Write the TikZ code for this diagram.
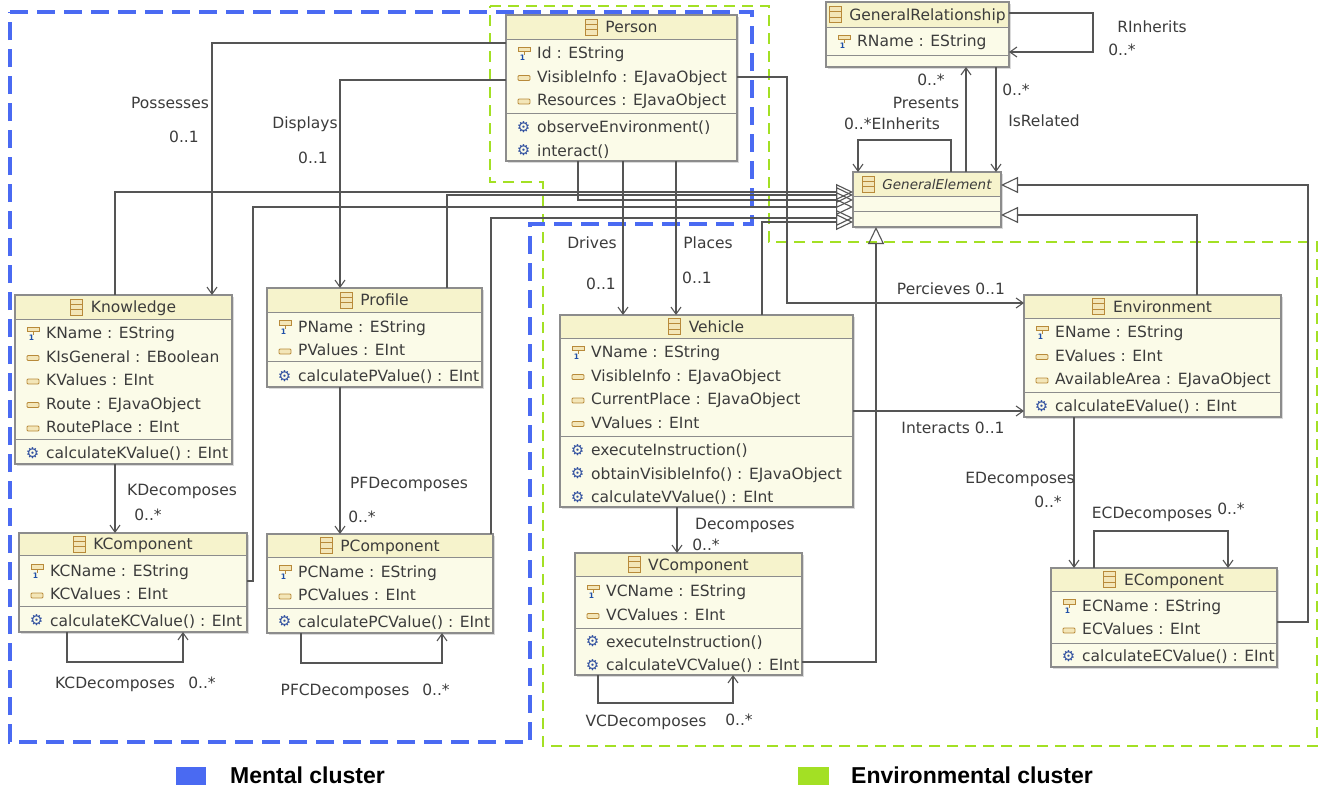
\documentclass[tikz,border=0pt]{standalone}
\usepackage{fontspec}
\setmainfont{DejaVu Sans}
\newfontfamily\legfont{Liberation Sans}
\usetikzlibrary{arrows.meta,calc}
\definecolor{bodyfill}{HTML}{FBFBE8}
\definecolor{headfill}{HTML}{F6F3CC}
\definecolor{boxline}{HTML}{8C8C8C}
\definecolor{txtcol}{HTML}{3C3C3C}
\definecolor{linecol}{HTML}{555555}
\definecolor{iconcol}{HTML}{B88A3A}
\definecolor{iconfill}{HTML}{F3E6B8}
\definecolor{gearblue}{HTML}{2F4F9F}
\definecolor{idblue}{HTML}{1F4FA8}
\definecolor{bluec}{HTML}{4A6AF2}
\definecolor{greenc}{HTML}{A3E024}
\definecolor{shadowc}{HTML}{DADADA}
\newcommand\umlfs{\fontsize{15.5}{18}\selectfont}
\newcount\rowno
\newcommand\nextrow{\global\advance\rowno by 1\relax}
\tikzset{
 classbox/.style={draw=boxline, line width=1.2pt, fill=bodyfill, inner sep=0pt, outer sep=0pt, rectangle},
 sepline/.style={draw=boxline, line width=1pt},
 lbl/.style={font=\umlfs, text=txtcol, inner sep=0pt, anchor=base},
 rowtxt/.style={font=\umlfs, text=txtcol, inner sep=0pt, anchor=base west},
 assoc/.style={draw=linecol, line width=1.1pt, -{Straight Barb[length=7pt,width=10pt]}},
 gen/.style={draw=linecol, line width=1.1pt, -{Triangle[open,length=17pt,width=16pt]}},
 plainline/.style={draw=linecol, line width=1.1pt},
}
% name, left, top, right, bottom, header sep, attr sep, title
\newcommand\umlbox[8]{%
  \fill[shadowc] (#2+2,#3+2) rectangle (#4+2,#5+2);
  \node[classbox, anchor=north west, minimum width={#4-#2}, minimum height={#5-#3}] (#1) at (#2,#3) {};
  \fill[headfill] (#2,#3) rectangle (#4,#6);
  \draw[sepline] (#2,#6) -- (#4,#6);
  \draw[sepline] (#2,#7) -- (#4,#7);
  \draw[draw=boxline, line width=1.2pt] (#1.north west) rectangle (#1.south east);
  \node[lbl] (#1-title) at ({(#2+#4)/2+10},{(#3+#6)/2+5.5}) {#8};
  \draw[iconcol, fill=iconfill, line width=0.9pt] ($(#1-title.base west)+(-20,-13.5)$) rectangle ($(#1-title.base west)+(-8,2.5)$);
  \draw[iconcol, line width=0.9pt] ($(#1-title.base west)+(-20,-8.2)$) -- ++(12,0) ($(#1-title.base west)+(-20,-2.8)$) -- ++(12,0);
}
\newcommand\uattr[3]{\nextrow
  \draw[iconcol, fill=iconfill, line width=0.9pt, rounded corners=1pt] (#1+12,#2-1) rectangle (#1+24,#2+4);
  \node[rowtxt] (r\the\rowno) at (#1+31,#2+5.5) {#3};}
\newcommand\uid[3]{\nextrow
  \draw[iconcol, fill=iconfill, line width=0.9pt] (#1+12,#2-6) rectangle (#1+24,#2-1.5);
  \draw[iconcol, line width=0.9pt] (#1+18,#2-1.5) -- (#1+18,#2+2);
  \node[font=\fontsize{7.5}{7.5}\selectfont\bfseries, text=idblue, inner sep=0pt] (r\the\rowno i) at (#1+16.5,#2+5) {1};
  \node[rowtxt] (r\the\rowno) at (#1+31,#2+5.5) {#3};}
\newcommand\uop[3]{\nextrow
  \node[text=gearblue, font=\fontsize{15}{15}\selectfont, inner sep=0pt] (r\the\rowno g) at (#1+17.5,#2) {⚙};
  \node[rowtxt] (r\the\rowno) at (#1+31,#2+5.5) {#3};}
\newcommand\lab[4]{\node[lbl] (#1) at (#2,#3+5.5) {#4};}
\begin{document}
\begin{tikzpicture}[x=1pt,y=-1pt]
\useasboundingbox (0,0) rectangle (1326,787);
\fill[white] (0,0) rectangle (1326,787);
% clusters
\draw[greenc, line width=2.6pt, dash pattern=on 11pt off 7pt] (490,6) -- (769,6) -- (769,242) -- (1317,242) -- (1317,746) -- (543,746) -- (543,182) -- (490,182) -- cycle;
\draw[bluec, line width=4pt, dash pattern=on 18pt off 9pt] (10,12) -- (752,12) -- (752,224) -- (530,224) -- (530,742) -- (10,742) -- cycle;
% boxes
\umlbox{person}{506}{15}{737}{161}{39}{113}{Person}
\uid{506}{53}{Id : EString}
\uattr{506}{76.5}{VisibleInfo : EJavaObject}
\uattr{506}{100}{Resources : EJavaObject}
\uop{506}{127}{observeEnvironment()}
\uop{506}{150.5}{interact()}

\umlbox{genrel}{826}{2}{1009}{67}{27}{55}{GeneralRelationship}
\uid{826}{41}{RName : EString}

\umlbox{genelem}{853}{172}{1001}{227}{196}{211}{\fontsize{13.5}{16}\selectfont\itshape GeneralElement}

\umlbox{knowledge}{15}{295}{232}{464}{319}{439}{Knowledge}
\uid{15}{333}{KName : EString}
\uattr{15}{356.5}{KIsGeneral : EBoolean}
\uattr{15}{380}{KValues : EInt}
\uattr{15}{403.5}{Route : EJavaObject}
\uattr{15}{427}{RoutePlace : EInt}
\uop{15}{453}{calculateKValue() : EInt}

\umlbox{profile}{267}{288}{482}{387}{312}{361}{Profile}
\uid{267}{326.5}{PName : EString}
\uattr{267}{350}{PValues : EInt}
\uop{267}{376}{calculatePValue() : EInt}

\umlbox{vehicle}{560}{315}{853}{507}{338}{436}{Vehicle}
\uid{560}{352}{VName : EString}
\uattr{560}{375.5}{VisibleInfo : EJavaObject}
\uattr{560}{399}{CurrentPlace : EJavaObject}
\uattr{560}{422.5}{VValues : EInt}
\uop{560}{450}{executeInstruction()}
\uop{560}{473.5}{obtainVisibleInfo() : EJavaObject}
\uop{560}{497}{calculateVValue() : EInt}

\umlbox{environment}{1024}{295}{1281}{417}{318}{392}{Environment}
\uid{1024}{332}{EName : EString}
\uattr{1024}{355.5}{EValues : EInt}
\uattr{1024}{379}{AvailableArea : EJavaObject}
\uop{1024}{406}{calculateEValue() : EInt}

\umlbox{kcomp}{19}{533}{247}{632}{555}{606}{KComponent}
\uid{19}{570.5}{KCName : EString}
\uattr{19}{594}{KCValues : EInt}
\uop{19}{620.5}{calculateKCValue() : EInt}

\umlbox{pcomp}{267}{534}{493}{633}{557}{608}{PComponent}
\uid{267}{571.5}{PCName : EString}
\uattr{267}{595}{PCValues : EInt}
\uop{267}{621.5}{calculatePCValue() : EInt}

\umlbox{vcomp}{575}{553}{802}{675}{576}{628}{VComponent}
\uid{575}{591}{VCName : EString}
\uattr{575}{614.5}{VCValues : EInt}
\uop{575}{641.5}{executeInstruction()}
\uop{575}{665}{calculateVCValue() : EInt}

\umlbox{ecomp}{1051}{568}{1277}{667}{591}{643}{EComponent}
\uid{1051}{605.5}{ECName : EString}
\uattr{1051}{629}{ECValues : EInt}
\uop{1051}{656}{calculateECValue() : EInt}

% associations
\draw[assoc] (person.west |- 0,43) -| (212,0 |- knowledge.north);
\draw[assoc] (person.west |- 0,80) -| (340,0 |- profile.north);
\draw[assoc] (623,0 |- person.south) -- (623,0 |- vehicle.north);
\draw[assoc] (676,0 |- person.south) -- (676,0 |- vehicle.north);
\draw[assoc] (person.east |- 0,77) -| (787,303) -- (environment.west |- 0,303);
\draw[assoc] (vehicle.east |- 0,411) -- (environment.west |- 0,411);
\draw[assoc] (115,0 |- knowledge.south) -- (115,0 |- kcomp.north);
\draw[assoc] (340,0 |- profile.south) -- (340,0 |- pcomp.north);
\draw[assoc] (677,0 |- vehicle.south) -- (677,0 |- vcomp.north);
\draw[assoc] (1074,0 |- environment.south) -- (1074,0 |- ecomp.north);
\draw[assoc] (67,0 |- kcomp.south) |- (183,662) -- (183,0 |- kcomp.south);
\draw[assoc] (301,0 |- pcomp.south) |- (442,663) -- (442,0 |- pcomp.south);
\draw[assoc] (598,0 |- vcomp.south) |- (733,703) -- (733,0 |- vcomp.south);
\draw[assoc] (1094,0 |- ecomp.north) |- (1228,531) -- (1228,0 |- ecomp.north);
\draw[assoc] (966,0 |- genelem.north) -- (966,0 |- genrel.south);
\draw[assoc] (996,0 |- genrel.south) -- (996,0 |- genelem.north);
\draw[assoc] (951,0 |- genelem.north) |- (858,140) -- (858,0 |- genelem.north);
\draw[assoc] (genrel.east |- 0,13) -| (1093,52) -- (genrel.east |- 0,52);
% generalizations
\draw[gen] (115,0 |- knowledge.north) |- (genelem.west |- 0,192);
\draw[gen] (447,0 |- profile.north) |- (genelem.west |- 0,195);
\draw[gen] (578,0 |- person.south) |- (genelem.west |- 0,200);
\draw[gen] (kcomp.east |- 0,581) -| (253,207) -- (genelem.west |- 0,207);
\draw[gen] (491,0 |- pcomp.north) |- (genelem.west |- 0,218);
\draw[gen] (762,0 |- vehicle.north) |- (genelem.west |- 0,222);
\draw[gen] (vcomp.east |- 0,662) -| (876,0 |- genelem.south);
\draw[gen] (1197,0 |- environment.north) |- (genelem.east |- 0,215);
\draw[gen] (ecomp.east |- 0,622) -| (1308,185) -- (genelem.east |- 0,185);
% labels
\lab{l1}{170}{103}{Possesses}
\lab{l2}{184}{137}{0..1}
\lab{l3}{305}{123}{Displays}
\lab{l4}{313}{158}{0..1}
\lab{l5}{592}{243}{Drives}
\lab{l6}{601}{284}{0..1}
\lab{l7}{708}{243}{Places}
\lab{l8}{697}{278}{0..1}
\lab{l9}{951}{289}{Percieves\hspace{5pt}0..1}
\lab{l10}{953}{428}{Interacts\hspace{5pt}0..1}
\lab{l11}{182}{490}{KDecomposes}
\lab{l12}{148}{515}{0..*}
\lab{l13}{409}{483}{PFDecomposes}
\lab{l14}{362}{517}{0..*}
\lab{l15}{115}{683}{KCDecomposes}
\lab{l16}{202}{683}{0..*}
\lab{l17}{345}{690}{PFCDecomposes}
\lab{l18}{436}{690}{0..*}
\lab{l19}{745}{524}{Decomposes}
\lab{l20}{706}{545}{0..*}
\lab{l21}{646}{721}{VCDecomposes}
\lab{l22}{739}{720}{0..*}
\node[lbl, anchor=base east] (l23) at (1075,483.5) {EDecomposes};
\lab{l24}{1048}{502}{0..*}
\lab{l25}{1152}{513}{ECDecomposes}
\lab{l26}{1231}{509}{0..*}
\lab{l27}{1152}{27}{RInherits}
\lab{l28}{1122}{50}{0..*}
\lab{l29}{926}{103}{Presents}
\lab{l30}{931}{80}{0..*}
\lab{l31}{892}{124}{0..*EInherits}
\lab{l32}{1016}{90}{0..*}
\lab{l33}{1044}{121}{IsRelated}
% legend
\fill[bluec] (176,767) rectangle (206,785);
\node[font=\legfont\bfseries\fontsize{23}{26}\selectfont, inner sep=0pt, anchor=base west] (leg1) at (230,783) {Mental cluster};
\fill[greenc] (798,767) rectangle (829,785);
\node[font=\legfont\bfseries\fontsize{23}{26}\selectfont, inner sep=0pt, anchor=base west] (leg2) at (851,783) {Environmental cluster};
\end{tikzpicture}
\end{document}
